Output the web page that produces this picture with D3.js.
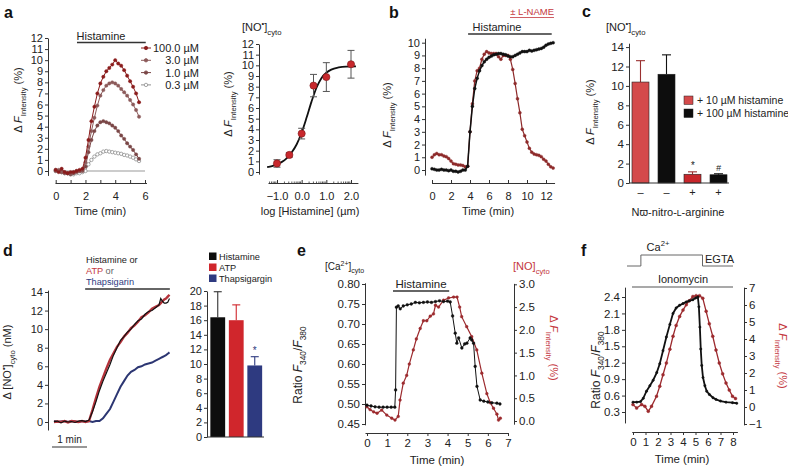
<!DOCTYPE html>
<html><head><meta charset="utf-8">
<script src="https://cdn.jsdelivr.net/npm/d3@7"></script>
<style>body{margin:0;background:#fff}</style>
</head><body>
<script>
// ---------------- DATA ----------------
// Panel a (time courses)
const aTime = [0,0.2,0.4,0.6,0.8,1.0,1.2,1.4,1.6,1.8,2.0,2.2,2.4,2.6,2.8,3.0,3.2,3.4,3.6,3.8,4.0,4.2,4.4,4.6,4.8,5.0,5.2,5.4,5.6];
const a100 = [0.1,-0.1,0.2,-0.1,-0.2,-0.1,-0.1,0.0,0.1,0.2,1.2,2.8,4.5,5.8,7.0,7.9,8.5,9.0,9.3,9.6,10.0,9.7,9.5,9.1,8.6,8.1,7.6,7.0,6.2];
const a3 = [0.0,0.1,-0.1,-0.2,-0.2,-0.2,-0.1,0.0,0.0,0.1,0.8,2.2,3.6,4.8,5.9,6.8,7.3,7.7,7.9,8.0,7.9,7.7,7.4,7.1,6.8,6.4,6.0,5.5,4.9];
const a1 = [0.1,0.0,-0.1,-0.1,-0.2,-0.3,-0.2,-0.1,0.0,0.0,0.4,1.7,2.8,3.6,4.1,4.4,4.5,4.4,4.3,4.1,3.9,3.6,3.2,2.9,2.5,2.2,1.9,1.5,1.1];
const a03 = [0.0,0.0,-0.1,-0.2,-0.2,-0.3,-0.3,-0.2,-0.2,-0.1,0.0,0.6,1.0,1.3,1.5,1.6,1.75,1.8,1.75,1.7,1.65,1.6,1.55,1.45,1.4,1.3,1.2,1.05,0.9];
const aLegend = ["100.0 \u00b5M","3.0 \u00b5M","1.0 \u00b5M","0.3 \u00b5M"];
const aHistamine = [1.43, 6.05];
const aYTicks = [0,1,2,3,4,5,6,7,8,9,10,11,12];
const aXTicks = [0,1,2,3,4,5,6];
// Panel a (dose response)
const drLog = [-1,-0.5,0,0.48,1,2];
const drMean = [0.8,1.6,3.6,8.1,8.9,10.1];
const drErr = [0.35,0.2,0.5,1.05,1.35,1.3];
const drCurveX = [-1.4,-1.2,-1.0,-0.8,-0.6,-0.4,-0.2,0,0.2,0.4,0.6,0.8,1.0,1.2,1.5,1.8,2.2];
const drCurveY = [0.45,0.55,0.75,0.95,1.3,1.85,2.6,3.7,5.1,6.6,7.9,8.8,9.3,9.6,9.8,9.88,9.9];
const drXTicks = [-1,0,1,2];
// Panel b
const bTime = [0,0.25,0.5,0.75,1,1.25,1.5,1.75,2,2.25,2.5,2.75,3,3.25,3.5,3.75,4,4.25,4.5,4.75,5,5.25,5.5,5.75,6,6.25,6.5,6.75,7,7.25,7.5,7.75,8,8.25,8.5,8.75,9,9.25,9.5,9.75,10,10.25,10.5,10.75,11,11.25,11.5,11.75,12,12.25,12.5,12.75];
const bControl = [0.1,0.05,0.0,0.0,0.05,0.0,0.0,-0.05,0.0,-0.1,-0.1,-0.15,-0.1,0.0,0.0,0.3,3.0,5.0,6.4,7.2,7.8,8.2,8.5,8.7,8.85,8.95,9.05,9.1,9.15,9.15,9.1,9.05,8.95,8.9,8.9,9.0,9.1,9.2,9.3,9.3,9.3,9.4,9.35,9.4,9.45,9.5,9.55,9.65,9.8,9.9,9.95,10.0];
const bLName = [1.0,1.2,1.3,1.2,1.2,1.1,1.05,0.9,0.7,0.5,0.45,0.4,0.4,0.35,0.25,0.3,3.0,5.2,7.0,7.8,8.0,8.7,9.1,9.3,9.2,9.15,9.15,9.15,8.9,8.7,9.0,9.0,9.0,8.7,7.9,6.8,5.6,4.5,3.2,2.7,2.2,1.7,1.4,1.25,1.2,1.15,1.05,0.85,0.7,0.45,0.25,0.15];
const bHistamine = [3.8, 12.6];
const bYTicks = [0,1,2,3,4,5,6,7,8,9,10];
const bXTicks = [0,2,4,6,8,10,12];
// Panel c
const cGroups = ["\u2013","\u2013","+","+"];
const cMean = [10.4,11.2,0.9,0.85];
const cErr = [2.2,2.0,0.25,0.1];
const cMarks = ["","","*","#"];
const cLegend = ["+ 10 \u00b5M histamine","+ 100 \u00b5M histamine"];
const cYTicks = [0,2,4,6,8,10,12,14];
// Panel d (traces)
const dTime = [0,0.1,0.2,0.3,0.4,0.5,0.6,0.7,0.8,0.9,1.0,1.1,1.2,1.3,1.4,1.5,1.6,1.7,1.8,1.9,2.0,2.1,2.2,2.3,2.4,2.5,2.6,2.7,2.8,2.9,3.0,3.05,3.1,3.15,3.2,3.25,3.3];
const dHistamine = [0.05,0.1,-0.1,0.1,0.0,0.05,-0.05,0.1,0.15,0.05,0.2,1.1,2.2,3.4,4.4,5.3,6.2,7.2,8.0,8.8,9.2,9.7,10.0,10.5,10.9,11.1,11.6,11.9,12.0,12.3,12.6,13.3,13.0,12.8,12.8,12.9,13.3];
const dATP = [0.0,0.05,0.0,0.1,-0.05,0.1,0.05,0.0,0.1,0.0,0.1,1.3,2.6,3.8,4.8,5.8,6.7,7.4,8.1,8.6,9.2,9.6,10.1,10.4,10.8,11.3,11.5,11.8,12.2,12.4,12.6,12.8,13.0,13.2,13.3,13.5,13.7];
const dThaps = [0.1,0.0,0.05,0.1,0.0,0.1,0.05,0.0,0.1,0.05,0.1,0.0,0.1,0.1,0.4,0.9,1.4,2.2,3.0,3.8,4.4,5.0,5.4,5.6,5.9,6.0,6.2,6.3,6.4,6.6,6.8,6.9,7.0,7.1,7.2,7.35,7.5];
const dAgonist = [0.89, 3.31];
const dScaleBar = 1; // min
const dYTicks = [0,2,4,6,8,10,12,14];
// Panel d (bars)
const dbNames = ["Histamine","ATP","Thapsigargin"];
const dbMean = [16.4,16.0,9.8];
const dbErr = [3.5,2.1,1.2];
const dbYTicks = [0,2,4,6,8,10,12,14,16,18,20];
// Panel e
const eCaTime = [0,0.2,0.4,0.6,0.8,1.0,1.2,1.38,1.42,1.46,1.55,1.65,1.8,2.0,2.2,2.4,2.6,2.8,3.0,3.2,3.4,3.6,3.8,4.0,4.13,4.25,4.38,4.46,4.55,4.71,4.85,4.96,5.12,5.2,5.29,5.37,5.46,5.62,5.8,6.0,6.2,6.45,6.6];
const eCa = [0.497,0.495,0.493,0.492,0.492,0.492,0.492,0.492,0.535,0.742,0.745,0.738,0.745,0.748,0.750,0.754,0.753,0.754,0.755,0.754,0.756,0.758,0.756,0.757,0.755,0.72,0.677,0.652,0.665,0.64,0.65,0.652,0.665,0.66,0.652,0.594,0.544,0.51,0.507,0.505,0.503,0.502,0.500];
const eNoTime = [0,0.15,0.33,0.5,0.73,0.98,1.23,1.39,1.55,1.64,1.8,1.97,2.1,2.3,2.45,2.64,2.8,2.97,3.14,3.3,3.4,3.55,3.8,4.05,4.3,4.47,4.6,4.7,4.95,5.2,5.45,5.7,5.95,6.12,6.28,6.45,6.53,6.62];
const eNo = [0.31,0.25,0.2,0.17,0.24,0.13,0.06,0.02,0.1,0.46,0.83,1.0,1.25,1.56,1.8,2.03,2.2,2.2,2.3,2.35,2.54,2.5,2.65,2.7,2.72,2.72,2.5,2.29,2.07,1.85,1.56,1.05,0.6,0.4,0.28,0.15,0.02,0.06];
const eHistamine = [1.29, 4.08];
const eYLTicks = [0.45,0.50,0.55,0.60,0.65,0.70,0.75,0.80];
const eYRTicks = [0,0.5,1.0,1.5,2.0,2.5,3.0];
const eXTicks = [0,1,2,3,4,5,6,7];
// Panel f
const fCaTime = [0,0.3,0.6,0.82,1.08,1.35,1.61,1.9,2.14,2.4,2.67,2.95,3.2,3.45,3.73,4.0,4.26,4.5,4.79,5.0,5.19,5.27,5.35,5.42,5.5,5.6,5.75,5.9,6.11,6.4,6.64,7.0,7.44,7.96,8.3];
const fCa = [0.48,0.48,0.49,0.55,0.68,0.78,0.88,1.02,1.18,1.42,1.67,1.9,2.1,2.2,2.25,2.28,2.31,2.33,2.35,2.38,2.4,2.22,1.85,1.45,1.15,0.93,0.78,0.68,0.62,0.56,0.53,0.5,0.48,0.47,0.46];
const fNoTime = [0,0.29,0.69,0.95,1.22,1.48,1.88,2.14,2.4,2.67,2.95,3.2,3.45,3.73,4.0,4.26,4.5,4.79,5.05,5.32,5.58,5.85,6.1,6.38,6.64,6.9,7.17,7.44,7.7,7.96,8.2];
const fNo = [0.14,-0.06,0.14,0.04,-0.25,0.04,0.63,1.22,1.9,2.59,3.4,4.16,4.8,5.33,5.7,6.02,6.25,6.5,6.55,6.55,6.4,5.63,4.9,4.16,3.35,2.59,1.95,1.41,1.0,0.63,0.5];
const fCaStep = [-0.48, 0.63, 5.56, 8.0];
const fIonomycin = [-0.08, 8.0];
const fYLTicks = [0.3,0.6,0.9,1.2,1.5,1.8,2.1,2.4];
const fYRTicks = [-1,0,1,2,3,4,5,6,7];
const fXTicks = [0,1,2,3,4,5,6,7,8];

// ---------------- HELPERS ----------------
const FONT = "'Liberation Sans', Arial, Helvetica, sans-serif";
const INK = "#222", AX = "#333";
const LABELRED = "#c4373d";
const svg = d3.select("body").append("svg").attr("width",788).attr("height",467)
  .style("font-family",FONT);

function ext(s, d0, d1){ return d3.scaleLinear().domain([d0,d1]).range([s(d0), s(d1)]); }
function styleAxis(g, size){
  g.attr("font-family",FONT).attr("font-size",size||11);
  g.selectAll("text").attr("fill",INK);
  g.selectAll("line,path").attr("stroke",AX);
  return g;
}
function rich(x, y, parts, o){
  o = o||{};
  const size = o.size||11;
  const t = svg.append("text")
    .attr("transform",`translate(${x},${y}) rotate(${o.rotate||0})`)
    .attr("text-anchor",o.anchor||"middle").attr("font-size",size)
    .attr("fill",o.fill||INK);
  let shift = 0;
  parts.forEach(p=>{
    const s = typeof p==="string" ? p : p[0];
    const k = typeof p==="string" ? "" : p[1];
    const ts = t.append("tspan").text(s);
    let target = k.includes("sub") ? size*0.32 : k.includes("sup") ? -size*0.42 : 0;
    ts.attr("dy", target-shift); shift = target;
    if(k.includes("sub")||k.includes("sup")) ts.attr("font-size", size*0.7);
    if(k.includes("it")) ts.attr("font-style","italic");
    if(k.includes("red")) ts.attr("fill",LABELRED);
    if(k.includes("blue")) ts.attr("fill","#2e3a80");
    if(k.includes("gray")) ts.attr("fill","#666");
    if(k.includes("sc")) ts.attr("font-size", size*0.78);
  });
  return t;
}
function letter(x,y,s){ svg.append("text").attr("x",x).attr("y",y).attr("font-size",16).attr("font-weight","bold").attr("fill","#111").text(s); }
function hbar(x0,x1,y,color,w){ svg.append("line").attr("x1",x0).attr("x2",x1).attr("y1",y).attr("y2",y).attr("stroke",color||"#333").attr("stroke-width",w||1.3); }
const dF = ["\u0394 ",["F","it"],["Intensity","sub"]," (%)"];
function trace(xs, ys, X, Y, color, o){
  o=o||{};
  const pts = xs.map((t,i)=>[X(t),Y(ys[i])]);
  svg.append("path").attr("d",d3.line()(pts)).attr("fill","none").attr("stroke",color).attr("stroke-width",o.w||1.1);
  if(o.r){
    svg.append("g").selectAll("circle").data(pts).join("circle")
      .attr("cx",d=>d[0]).attr("cy",d=>d[1]).attr("r",o.r)
      .attr("fill",o.hollow?"#fff":color).attr("stroke",color).attr("stroke-width",o.hollow?0.8:0.4);
  }
}

// ---------------- PANEL a (time course) ----------------
letter(4,18,"a");
const aX = d3.scaleLinear([0,6],[55.7,145]);
const aY = d3.scaleLinear([0,12],[171,38]);
styleAxis(svg.append("g").attr("transform","translate(48,0)")
  .call(d3.axisLeft(ext(aY,-0.4,12)).tickValues(aYTicks).tickSize(3).tickSizeOuter(0).tickPadding(2)));
styleAxis(svg.append("g").attr("transform","translate(0,183)")
  .call(d3.axisBottom(ext(aX,-0.05,6.1)).tickValues(aXTicks).tickSize(-3).tickSizeOuter(0).tickPadding(9)
  .tickFormat(d=>d%2===0?d:"")));
svg.append("line").attr("x1",aX(0)).attr("x2",aX(6)).attr("y1",aY(0)).attr("y2",aY(0)).attr("stroke","#bbb").attr("stroke-width",1.5);
const aSeries = [[a03,"#8f8f8f",true],[a1,"#7a4646",false],[a3,"#8c5a5a",false],[a100,"#8a1c1c",false]];
aSeries.forEach(([v,c,h])=>trace(aTime,v,aX,aY,c,{r:1.7,hollow:h,w:1}));
hbar(aX(aHistamine[0]),aX(aHistamine[1]),42.5,"#333",1.3);
rich(101,40,["Histamine"],{size:11});
const aLegColors = ["#8a1c1c","#8c5a5a","#7a4646","#8f8f8f"];
aLegend.forEach((s,i)=>{
  const y = 48+i*12.3;
  hbar(141,151,y,aLegColors[i],1);
  svg.append("circle").attr("cx",146).attr("cy",y).attr("r",1.7).attr("fill",i===3?"#fff":aLegColors[i]).attr("stroke",aLegColors[i]).attr("stroke-width",0.8);
  rich(199,y+4,[s],{size:11,anchor:"end"});
});
rich(22,100,dF,{size:11,rotate:-90});
rich(100,215,["Time (min)"],{size:11});

// ---------------- PANEL a (dose response) ----------------
const drX = d3.scaleLinear([-1,2],[277,351]);
const drY = d3.scaleLinear([0,12],[172,44]);
styleAxis(svg.append("g").attr("transform","translate(259,0)")
  .call(d3.axisLeft(ext(drY,-0.2,12)).tickValues(aYTicks).tickSize(3).tickSizeOuter(0).tickPadding(2)));
styleAxis(svg.append("g").attr("transform","translate(0,183)")
  .call(d3.axisBottom(ext(drX,-1.365,2.28)).tickValues(drXTicks).tickSize(-3).tickSizeOuter(0).tickPadding(9)));
const minor = [];
[-2,-1,0,1,2].forEach(n=>[2,3,4,5,6,7,8,9].forEach(k=>{const v=n+Math.log10(k); if(v>-1.365&&v<2.28) minor.push(v);}));
svg.append("g").selectAll("line").data(minor).join("line")
  .attr("x1",d=>drX(d)).attr("x2",d=>drX(d)).attr("y1",183).attr("y2",181.5).attr("stroke",AX).attr("stroke-width",0.8);
svg.append("path").attr("d",d3.line().curve(d3.curveMonotoneX)(drCurveX.map((x,i)=>[drX(x),drY(drCurveY[i])])))
  .attr("fill","none").attr("stroke","#111").attr("stroke-width",1.8);
drLog.forEach((x,i)=>{
  const cx = drX(x);
  svg.append("line").attr("x1",cx).attr("x2",cx).attr("y1",drY(drMean[i]-drErr[i])).attr("y2",drY(drMean[i]+drErr[i])).attr("stroke","#555").attr("stroke-width",1);
  [drMean[i]-drErr[i],drMean[i]+drErr[i]].forEach(v=>svg.append("line").attr("x1",cx-3.5).attr("x2",cx+3.5).attr("y1",drY(v)).attr("y2",drY(v)).attr("stroke","#555").attr("stroke-width",1));
  svg.append("circle").attr("cx",cx).attr("cy",drY(drMean[i])).attr("r",3.6).attr("fill","#c8282d").attr("stroke","#7a1518").attr("stroke-width",0.6);
});
rich(242,31,["[NO",["\u2022","sup"],"]",["cyto","sub"]],{size:11,anchor:"start"});
rich(232,104,dF,{size:11,rotate:-90});
rich(310,215,["log [Histamine] (\u00b5m)"],{size:11});

// ---------------- PANEL b ----------------
letter(389,18,"b");
const bX = d3.scaleLinear([0,12],[432,546]);
const bY = d3.scaleLinear([0,10],[170,42.7]);
styleAxis(svg.append("g").attr("transform","translate(425,0)")
  .call(d3.axisLeft(ext(bY,-0.4,10.35)).tickValues(bYTicks).tickSize(3).tickSizeOuter(0).tickPadding(2)));
styleAxis(svg.append("g").attr("transform","translate(0,183)")
  .call(d3.axisBottom(ext(bX,-0.05,12.9)).tickValues(bXTicks).tickSize(-3).tickSizeOuter(0).tickPadding(9)));
trace(bTime,bLName,bX,bY,"#8e2a2a",{r:1.5,w:1.2});
trace(bTime,bControl,bX,bY,"#111",{r:1.5,w:1.5});
hbar(bX(bHistamine[0]),bX(bHistamine[1]),34,"#333",1.3);
rich(497,31,["Histamine"],{size:11});
rich(554,15,["\u00b1 L-NAME"],{size:9.5,anchor:"end",fill:LABELRED});
hbar(510,554,17.5,LABELRED,0.8);
rich(391,115,dF,{size:11,rotate:-90});
rich(488,215,["Time (min)"],{size:11});

// ---------------- PANEL c ----------------
letter(582,17,"c");
const cY = d3.scaleLinear([0,14.4],[183,43.2]);
const cX = d3.scaleBand().domain(d3.range(cMean.length)).range([629,730]).paddingInner(0.346).paddingOuter(0.115);
const cFill = ["#d44a4b","#0d0d0d","#c8262b","#0d0d0d"];
cMean.forEach((v,i)=>{
  const x = cX(i), w = cX.bandwidth(), cx = x+w/2;
  svg.append("line").attr("x1",cx).attr("x2",cx).attr("y1",cY(v)).attr("y2",cY(v+cErr[i])).attr("stroke",i%2?"#111":"#9a3030").attr("stroke-width",1.1);
  svg.append("line").attr("x1",cx-4.5).attr("x2",cx+4.5).attr("y1",cY(v+cErr[i])).attr("y2",cY(v+cErr[i])).attr("stroke",i%2?"#111":"#9a3030").attr("stroke-width",1.1);
  svg.append("rect").attr("x",x).attr("y",cY(v)).attr("width",w).attr("height",cY(0)-cY(v)).attr("fill",cFill[i]).attr("stroke","#222").attr("stroke-width",0.6);
  svg.append("text").attr("x",cx).attr("y",196).attr("text-anchor","middle").attr("font-size",11).attr("fill",INK).text(cGroups[i]);
  if(cMarks[i]) svg.append("text").attr("x",cx).attr("y",cY(v+cErr[i])-3).attr("text-anchor","middle").attr("font-size",cMarks[i]==="*"?10:9).attr("font-style","italic").attr("fill",INK).text(cMarks[i]);
});
styleAxis(svg.append("g").attr("transform","translate(629,0)")
  .call(d3.axisLeft(cY).tickValues(cYTicks).tickSize(3).tickSizeOuter(0).tickPadding(2)), 11.5);
svg.append("line").attr("x1",629).attr("x2",729).attr("y1",183).attr("y2",183).attr("stroke",AX);
cLegend.forEach((s,i)=>{
  const y = 96+i*13;
  svg.append("rect").attr("x",684).attr("y",y).attr("width",9).attr("height",8.5).attr("fill",i?"#0d0d0d":"#d44a4b").attr("stroke","#222").attr("stroke-width",0.5);
  rich(697,y+8,[s],{size:10.5,anchor:"start"});
});
rich(606,31,["[NO",["\u2022","sup"],"]",["cyto","sub"]],{size:11,anchor:"start"});
rich(594,112,dF,{size:11,rotate:-90});
rich(678,216,["N\u03d6-nitro-",["L","sc"],"-arginine"],{size:11});

// ---------------- PANEL d (traces) ----------------
letter(3,256,"d");
const dX = d3.scaleLinear([0,1],[54,89]);
const dY = d3.scaleLinear([0,14],[422,292]);
styleAxis(svg.append("g").attr("transform","translate(48,0)")
  .call(d3.axisLeft(ext(dY,-0.86,14.2)).tickValues(dYTicks).tickSize(3).tickSizeOuter(0).tickPadding(2)));
trace(dTime,dThaps,dX,dY,"#2c3672",{w:2});
trace(dTime,dATP,dX,dY,"#b3323a",{w:2.4});
trace(dTime,dHistamine,dX,dY,"#111",{w:1.2});
hbar(dX(dAgonist[0]),dX(dAgonist[1]),289,"#333",1.3);
rich(86,263,["Histamine or"],{size:9.2,anchor:"start"});
rich(86,274,[["ATP","red"],[" or","gray"]],{size:9.2,anchor:"start"});
rich(86,285,[["Thapsigarin","blue"]],{size:9.2,anchor:"start"});
hbar(dX(0)-2,dX(dScaleBar)-2,447,"#333",1.2);
rich(dX(0.5)-2,443,["1 min"],{size:10});
rich(11,362,["\u0394 [NO",["\u2022","sup"],"]",["cyto","sub"]," (nM)"],{size:11,rotate:-90});

// ---------------- PANEL d (bars) ----------------
const dbY = d3.scaleLinear([0,20],[437,291]);
const dbX = d3.scaleBand().domain(dbNames).range([208.5,264]).paddingInner(0.2).paddingOuter(0.1);
const dbFill = ["#0d0d0d","#d0262c","#2e3a80"];
const dbErrC = ["#333","#d0262c","#2e3a80"];
dbNames.forEach((n,i)=>{
  const x = dbX(n), w = dbX.bandwidth(), cx = x+w/2;
  svg.append("line").attr("x1",cx).attr("x2",cx).attr("y1",dbY(dbMean[i])).attr("y2",dbY(dbMean[i]+dbErr[i])).attr("stroke",dbErrC[i]).attr("stroke-width",1.1);
  svg.append("line").attr("x1",cx-4).attr("x2",cx+4).attr("y1",dbY(dbMean[i]+dbErr[i])).attr("y2",dbY(dbMean[i]+dbErr[i])).attr("stroke",dbErrC[i]).attr("stroke-width",1.1);
  svg.append("rect").attr("x",x).attr("y",dbY(dbMean[i])).attr("width",w).attr("height",dbY(0)-dbY(dbMean[i])).attr("fill",dbFill[i]);
  svg.append("rect").attr("x",209).attr("y",252.5+i*11).attr("width",7.5).attr("height",7.5).attr("fill",dbFill[i]);
  rich(219,259.5+i*11,[n],{size:9.2,anchor:"start"});
});
svg.append("text").attr("x",dbX("Thapsigargin")+dbX.bandwidth()/2).attr("y",dbY(dbMean[2]+dbErr[2])-3).attr("text-anchor","middle").attr("font-size",10).attr("fill","#2e3a80").text("*");
styleAxis(svg.append("g").attr("transform","translate(207,0)")
  .call(d3.axisLeft(dbY).tickValues(dbYTicks).tickSize(3).tickSizeOuter(0).tickPadding(2)));
svg.append("line").attr("x1",207).attr("x2",264).attr("y1",437).attr("y2",437).attr("stroke",AX);

// ---------------- PANEL e ----------------
letter(297,256,"e");
const eX = d3.scaleLinear([0,7],[367,508]);
const eYL = d3.scaleLinear([0.45,0.80],[424,284]);
const eYR = d3.scaleLinear([0,3],[421,284.3]);
styleAxis(svg.append("g").attr("transform","translate(365,0)")
  .call(d3.axisLeft(ext(eYL,0.448,0.803)).tickValues(eYLTicks).tickSize(3).tickSizeOuter(0).tickPadding(2).tickFormat(d3.format(".2f"))), 11.5);
styleAxis(svg.append("g").attr("transform","translate(514,0)")
  .call(d3.axisRight(ext(eYR,-0.07,3.02)).tickValues(eYRTicks).tickSize(3).tickSizeOuter(0).tickPadding(2).tickFormat(d3.format(".1f"))), 11.5);
styleAxis(svg.append("g").attr("transform","translate(0,433)")
  .call(d3.axisBottom(ext(eX,-0.1,7)).tickValues(eXTicks).tickSize(3).tickSizeOuter(0).tickPadding(3)), 11.5);
trace(eNoTime,eNo,eX,eYR,"#9c2a2e",{r:1.4,w:1.2});
trace(eCaTime,eCa,eX,eYL,"#111",{r:1.4,w:1});
hbar(eX(eHistamine[0]),eX(eHistamine[1]),291,"#333",1.3);
rich(421,288,["Histamine"],{size:11.5});
rich(325,270,["[Ca",["2+","sup"],"]",["cyto","sub"]],{size:10,anchor:"start"});
rich(513,270,["[NO]",["cyto","sub"]],{size:11,anchor:"start",fill:LABELRED});
rich(302,365,["Ratio ",["F","it"],["340","sub"],"/",["F","it"],["380","sub"]],{size:12,rotate:-90});
rich(550,348,dF,{size:11,rotate:90,fill:LABELRED});
rich(437,464,["Time (min)"],{size:11.5});

// ---------------- PANEL f ----------------
letter(581,256,"f");
const fX = d3.scaleLinear([0,8],[633,733]);
const fYL = d3.scaleLinear([0.3,2.4],[412,297]);
const fYR = d3.scaleLinear([-1,7],[424,288]);
styleAxis(svg.append("g").attr("transform","translate(625,0)")
  .call(d3.axisLeft(ext(fYL,0.1,2.58)).tickValues(fYLTicks).tickSize(3).tickSizeOuter(0).tickPadding(2).tickFormat(d3.format(".1f"))), 11.5);
styleAxis(svg.append("g").attr("transform","translate(744,0)")
  .call(d3.axisRight(ext(fYR,-1.05,7.05)).tickValues(fYRTicks).tickSize(3).tickSizeOuter(0).tickPadding(2)), 11.5);
styleAxis(svg.append("g").attr("transform","translate(0,432)")
  .call(d3.axisBottom(ext(fX,-0.1,8.35)).tickValues(fXTicks).tickSize(3).tickSizeOuter(0).tickPadding(3)), 11.5);
trace(fNoTime,fNo,fX,fYR,"#9c2a2e",{r:1.5,w:1.3});
trace(fCaTime,fCa,fX,fYL,"#111",{r:1.2,w:1.8});
svg.append("path").attr("d",d3.line()([[fX(fCaStep[0]),266],[fX(fCaStep[1]),266],[fX(fCaStep[1]),255],[fX(fCaStep[2]),255],[fX(fCaStep[2]),266],[fX(fCaStep[3]),266]]))
  .attr("fill","none").attr("stroke","#666").attr("stroke-width",1);
rich(658,251,["Ca",["2+","sup"]],{size:11});
rich(705,263,["EGTA"],{size:11,anchor:"start"});
hbar(fX(fIonomycin[0]),fX(fIonomycin[1]),287,"#555",1.1);
rich(683,283,["Ionomycin"],{size:11});
rich(600,370,["Ratio ",["F","it"],["340","sub"],"/",["F","it"],["380","sub"]],{size:12,rotate:-90});
rich(779,356,dF,{size:11,rotate:90,fill:LABELRED});
rich(682,463,["Time (min)"],{size:11.5});
</script>
</body></html>
